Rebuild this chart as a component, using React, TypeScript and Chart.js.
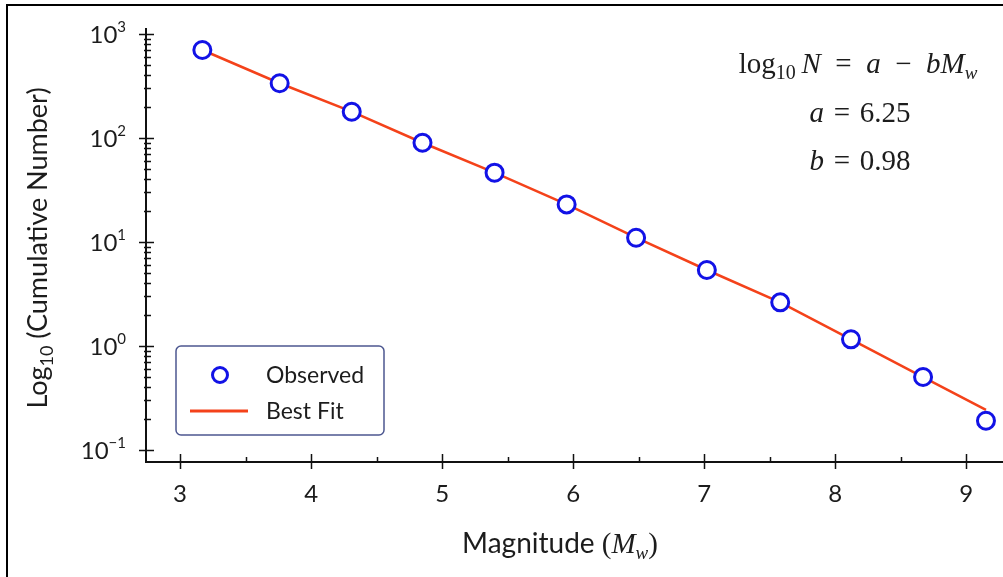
import React, { useEffect, useRef } from "react";
import { Chart, registerables } from "chart.js";

Chart.register(...registerables);

// ---- data ----
const OBS_MAGNITUDE = [3.17, 3.76, 4.31, 4.85, 5.4, 5.95, 6.48, 7.02, 7.58, 8.12, 8.67, 9.15];
const OBS_COUNT = [702, 336, 179, 90, 46.4, 23.0, 11.0, 5.38, 2.63, 1.16, 0.503, 0.191];
const FIT_MAGNITUDE = [3.17, 3.76, 4.31, 4.85, 5.4, 5.95, 6.48, 7.02, 7.58, 8.12, 8.67, 9.15];
const FIT_COUNT = [702, 336, 179, 90, 46.4, 23.0, 11.0, 5.38, 2.63, 1.16, 0.503, 0.243];

const X_MAJOR_TICKS = [3, 4, 5, 6, 7, 8, 9];
const X_TICK_LABELS = ["3", "4", "5", "6", "7", "8", "9"];
const X_MINOR_TICKS = [3.5, 4.5, 5.5, 6.5, 7.5, 8.5];

const Y_MAJOR_TICKS = [0.1, 1, 10, 100, 1000];
const Y_TICK_EXPONENTS = ["\u22121", "0", "1", "2", "3"];
const Y_MINOR_TICKS = [
  0.2, 0.3, 0.4, 0.5, 0.6, 0.7, 0.8, 0.9,
  2, 3, 4, 5, 6, 7, 8, 9,
  20, 30, 40, 50, 60, 70, 80, 90,
  200, 300, 400, 500, 600, 700, 800, 900,
];

const LEGEND_LABELS = ["Observed", "Best Fit"];
const FIT_PARAMS = ["6.25", "0.98"];

const SANS = 'Lato, "Open Sans", "DejaVu Sans", sans-serif';
const SERIF = '"Liberation Serif", "DejaVu Serif", serif';
const TEXT = "#1c1c1c";
const BLUE = "#1212e6";
const RED = "#f4421a";
const SP = "\u2004";
const SPW = "\u2002";

type Seg = { t: string; f: string; dy?: number };

function drawRich(ctx: CanvasRenderingContext2D, segs: Seg[], x: number, baseline: number, align: "center" | "left" = "center") {
  let total = 0;
  const widths = segs.map((s) => {
    ctx.font = s.f;
    const w = ctx.measureText(s.t).width;
    total += w;
    return w;
  });
  let cx = align === "center" ? x - total / 2 : x;
  ctx.textAlign = "left";
  ctx.textBaseline = "alphabetic";
  segs.forEach((s, i) => {
    ctx.font = s.f;
    ctx.fillText(s.t, cx, baseline + (s.dy || 0));
    cx += widths[i];
  });
}

const decorPlugin = {
  id: "decor",
  beforeDraw(chart: any) {
    const ctx = chart.ctx as CanvasRenderingContext2D;
    ctx.save();
    ctx.fillStyle = "#ffffff";
    ctx.fillRect(0, 0, chart.width, chart.height);
    ctx.restore();
  },
  afterDraw(chart: any) {
    const ctx = chart.ctx as CanvasRenderingContext2D;
    const xs = chart.scales.x;
    const ys = chart.scales.y;
    const area = chart.chartArea;
    ctx.save();

    // outer frame (top and left edges)
    ctx.strokeStyle = "#000";
    ctx.lineWidth = 2;
    ctx.beginPath();
    ctx.moveTo(7, chart.height);
    ctx.lineTo(7, 5);
    ctx.lineTo(chart.width, 5);
    ctx.stroke();

    // axes
    ctx.strokeStyle = "#111";
    ctx.lineWidth = 2;
    ctx.beginPath();
    ctx.moveTo(area.left, area.top);
    ctx.lineTo(area.left, area.bottom);
    ctx.lineTo(area.right, area.bottom);
    ctx.stroke();

    // y ticks
    ctx.lineWidth = 1.5;
    ctx.beginPath();
    Y_MAJOR_TICKS.forEach((v) => {
      const py = Math.round(ys.getPixelForValue(v)) + 0.5;
      ctx.moveTo(area.left - 7, py);
      ctx.lineTo(area.left + 8, py);
    });
    Y_MINOR_TICKS.forEach((v) => {
      const py = Math.round(ys.getPixelForValue(v)) + 0.5;
      ctx.moveTo(area.left - 2, py);
      ctx.lineTo(area.left + 5, py);
    });
    // x ticks
    X_MAJOR_TICKS.forEach((v) => {
      const px = Math.round(xs.getPixelForValue(v)) + 0.5;
      ctx.moveTo(px, area.bottom - 8);
      ctx.lineTo(px, area.bottom + 7);
    });
    X_MINOR_TICKS.forEach((v) => {
      const px = Math.round(xs.getPixelForValue(v)) + 0.5;
      ctx.moveTo(px, area.bottom - 5);
      ctx.lineTo(px, area.bottom);
    });
    ctx.stroke();

    ctx.fillStyle = TEXT;
    // y tick labels
    Y_MAJOR_TICKS.forEach((v, i) => {
      const py = ys.getPixelForValue(v);
      ctx.font = `24px ${SANS}`;
      const wBase = ctx.measureText("10").width;
      ctx.font = `15px ${SANS}`;
      const wExp = ctx.measureText(Y_TICK_EXPONENTS[i]).width;
      const right = area.left - 20;
      drawRich(ctx, [
        { t: "10", f: `24px ${SANS}` },
        { t: Y_TICK_EXPONENTS[i], f: `15px ${SANS}`, dy: -11 },
      ], right - wBase - wExp, py + 9, "left");
    });
    // x tick labels
    ctx.font = `24px ${SANS}`;
    ctx.textAlign = "center";
    ctx.textBaseline = "alphabetic";
    X_MAJOR_TICKS.forEach((v, i) => {
      ctx.fillText(X_TICK_LABELS[i], xs.getPixelForValue(v), area.bottom + 40);
    });

    // axis titles
    drawRich(ctx, [
      { t: "Magnitude ", f: `28px ${SANS}` },
      { t: "(", f: `29px ${SERIF}` },
      { t: "M", f: `italic 29px ${SERIF}` },
      { t: "w", f: `italic 19px ${SERIF}`, dy: 6 },
      { t: ")", f: `29px ${SERIF}` },
    ], 560, 553);

    ctx.save();
    ctx.translate(47, 248);
    ctx.rotate(-Math.PI / 2);
    drawRich(ctx, [
      { t: "Log", f: `27px ${SANS}` },
      { t: "10", f: `18px ${SANS}`, dy: 6 },
      { t: " (Cumulative Number)", f: `27px ${SANS}` },
    ], 0, 0);
    ctx.restore();

    // equation annotation
    const cx = 858;
    const F = `29px ${SERIF}`;
    const FI = `italic 29px ${SERIF}`;
    drawRich(ctx, [
      { t: "log", f: F },
      { t: "10", f: `20px ${SERIF}`, dy: 6 },
      { t: "\u2009N", f: FI },
      { t: SPW + "=" + SPW, f: F },
      { t: "a", f: FI },
      { t: SPW + "\u2212" + SPW, f: F },
      { t: "bM", f: FI },
      { t: "w", f: `italic 19px ${SERIF}`, dy: 6 },
    ], cx, 73);
    drawRich(ctx, [
      { t: "a", f: FI },
      { t: SP + "=" + SP + FIT_PARAMS[0], f: F },
    ], cx + 2, 122);
    drawRich(ctx, [
      { t: "b", f: FI },
      { t: SP + "=" + SP + FIT_PARAMS[1], f: F },
    ], cx + 2, 170);

    // legend
    const lx = 176, ly = 346, lw = 208, lh = 89;
    ctx.beginPath();
    ctx.roundRect(lx, ly, lw, lh, 5);
    ctx.fillStyle = "#ffffff";
    ctx.fill();
    ctx.strokeStyle = "#4d5790";
    ctx.lineWidth = 1.5;
    ctx.stroke();

    ctx.beginPath();
    ctx.arc(220, 375, 7.5, 0, Math.PI * 2);
    ctx.strokeStyle = BLUE;
    ctx.lineWidth = 3;
    ctx.stroke();

    ctx.beginPath();
    ctx.moveTo(190, 411);
    ctx.lineTo(248, 411);
    ctx.strokeStyle = RED;
    ctx.lineWidth = 3;
    ctx.stroke();

    ctx.fillStyle = TEXT;
    ctx.font = `23px ${SANS}`;
    ctx.textAlign = "left";
    ctx.textBaseline = "alphabetic";
    ctx.fillText(LEGEND_LABELS[0], 266, 383);
    ctx.fillText(LEGEND_LABELS[1], 266, 419);

    ctx.restore();
  },
};

export default function App() {
  const ref = useRef<HTMLCanvasElement | null>(null);

  useEffect(() => {
    if (!ref.current) return;
    const chart = new Chart(ref.current, {
      type: "scatter",
      data: {
        datasets: [
          {
            label: LEGEND_LABELS[0],
            data: OBS_MAGNITUDE.map((m, i) => ({ x: m, y: OBS_COUNT[i] })),
            pointRadius: 8.5,
            pointBorderWidth: 3,
            pointBorderColor: BLUE,
            pointBackgroundColor: "#ffffff",
            showLine: false,
          },
          {
            label: LEGEND_LABELS[1],
            data: FIT_MAGNITUDE.map((m, i) => ({ x: m, y: FIT_COUNT[i] })),
            showLine: true,
            borderColor: RED,
            borderWidth: 2.5,
            pointRadius: 0,
            fill: false,
          },
        ],
      },
      plugins: [decorPlugin],
      options: {
        responsive: false,
        animation: false,
        devicePixelRatio: 1,
        layout: { autoPadding: false, padding: { top: 28, left: 0, right: 0, bottom: 0 } },
        plugins: {
          legend: { display: false },
          tooltip: { enabled: false },
        },
        scales: {
          x: {
            type: "linear",
            min: 2.74,
            max: 9.28,
            grid: { display: false },
            border: { display: false },
            ticks: { display: false },
            afterFit: (s: any) => {
              s.height = 115;
            },
          },
          y: {
            type: "logarithmic",
            min: 0.0767,
            max: 1142,
            grid: { display: false },
            border: { display: false },
            ticks: { display: false },
            afterFit: (s: any) => {
              s.width = 146;
            },
          },
        },
      } as any,
    });
    return () => chart.destroy();
  }, []);

  return (
    <div style={{ position: "absolute", left: 0, top: 0, width: 1003, height: 577, background: "#fff" }}>
      <canvas ref={ref} width={1003} height={577} style={{ display: "block" }} />
    </div>
  );
}
